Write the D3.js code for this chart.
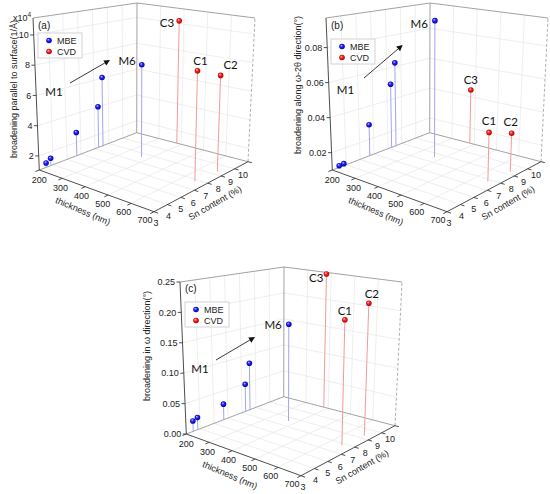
<!DOCTYPE html>
<html>
<head>
<meta charset="utf-8">
<script src="https://cdn.jsdelivr.net/npm/d3@7"></script>
<style>
  body { margin: 0; background: #fff; }
  svg { display: block; font-family: "Liberation Sans", Arial, sans-serif; }
</style>
</head>
<body>
<svg id="chart" width="550" height="494"></svg>
<script>
// samples
var sampleNames = ["M1", "M2", "M3", "M4", "M5", "M6", "C1", "C2", "C3"];
var sampleGroup = ["MBE", "MBE", "MBE", "MBE", "MBE", "MBE", "CVD", "CVD", "CVD"];
var thickness   = [200, 202, 200, 204, 205, 370, 655, 665, 380];
var snContent   = [3.5, 3.8, 5.7, 7.2, 7.5, 7.6, 6.8, 8.3, 10.0];

// panel values
var broadParallel    = [1.36, 1.58, 2.69, 4.05, 6.09, 7.58, 8.36, 7.60, 10.19];   // x10^-4 1/A
var broadOmega2Theta = [0.0110, 0.0114, 0.0288, 0.0499, 0.0627, 0.0933, 0.0380, 0.0326, 0.0443];
var broadOmega       = [0.0173, 0.0206, 0.0270, 0.0498, 0.0855, 0.1700, 0.2060, 0.2235, 0.2470];

// tick labels
var thicknessTicks = [200, 300, 400, 500, 600, 700];
var snTicks        = [3, 4, 5, 6, 7, 8, 9, 10];
var ticksA         = [2, 4, 6, 8, 10];
var ticksB         = [0.02, 0.04, 0.06, 0.08];
var ticksC         = [0.00, 0.05, 0.10, 0.15, 0.20, 0.25];

var groups      = ["MBE", "CVD"];
var groupColors = { MBE: "url(#gBlue)", CVD: "url(#gRed)" };
var dropColors  = { MBE: "#a4a4f2", CVD: "#f49a9a" };

var svg = d3.select("#chart");
var defs = svg.append("defs");

function ballGrad(id, light, mid, dark) {
	var gr = defs.append("radialGradient").attr("id", id)
		.attr("cx", "50%").attr("cy", "50%").attr("r", "55%")
		.attr("fx", "35%").attr("fy", "30%");
	gr.append("stop").attr("offset", "0%").attr("stop-color", light);
	gr.append("stop").attr("offset", "45%").attr("stop-color", mid);
	gr.append("stop").attr("offset", "100%").attr("stop-color", dark);
}
ballGrad("gBlue", "#c8c8ff", "#1e1eff", "#000090");
ballGrad("gRed", "#ffc8c8", "#ff1e1e", "#9a0000");

// box corners of one panel (u = thickness, v = Sn, w = vertical), perspective by trilinear blend
var corners = {
	"000": [39.3, 170], "100": [154, 211.7], "110": [248, 161.7], "010": [136.7, 132.7],
	"001": [33, 18],    "101": [155, 46],    "111": [255, 18],    "011": [137, 3]
};

function project(u, v, w) {
	var x = 0, y = 0;
	[0, 1].forEach(function(a) {
		[0, 1].forEach(function(b) {
			[0, 1].forEach(function(c) {
				var k = (a ? u : 1 - u) * (b ? v : 1 - v) * (c ? w : 1 - w);
				var p = corners["" + a + b + c];
				x += k * p[0];
				y += k * p[1];
			});
		});
	});
	return [x, y];
}

var uScale = d3.scaleLinear().domain([200, 700]).range([0, 1]);
var vScale = d3.scaleLinear().domain([3, 10]).range([0, 1]);
var line = d3.line();

var panels = [
	{ name: "(a)", values: broadParallel, zDomain: [1.07, 11.12], zTicks: ticksA, fmt: d3.format("d"),
	  dx: 0, dy: 0, title: "broadening parallel to surface(1/Å)", titlePos: [14, 89], legendY: 33,
	  m1: [54, 92], arrow: [[70, 83], [110, 60]], labelY: 25, multiplier: true,
	  offs: { M6: [-6, -4, "end"], C3: [-5, 2, "end"], C1: [3, -10, "middle"], C2: [10, -10, "middle"] } },
	{ name: "(b)", values: broadOmega2Theta, zDomain: [0.0101, 0.0969], zTicks: ticksB, fmt: d3.format(".2f"),
	  dx: 293, dy: 0, title: "broadening along ω-2θ direction(°)", titlePos: [5, 85], legendY: 39,
	  m1: [52.5, 90], arrow: [[71, 78], [109.7, 45]], labelY: 25,
	  offs: { M6: [-7, 3, "end"], C3: [0, -10, "middle"], C1: [0, -11, "middle"], C2: [-1, -11, "middle"] } },
	{ name: "(c)", values: broadOmega, zDomain: [0, 0.25], zTicks: ticksC, fmt: d3.format(".2f"),
	  dx: 147, dy: 264, title: "broadening in ω direction(°)", titlePos: [-0.5, 82], legendY: 38,
	  m1: [53, 105], arrow: [[69, 96], [108, 73]], labelY: 24,
	  offs: { M6: [-7, 1, "end"], C3: [-3, 4, "end"], C1: [0, -9, "middle"], C2: [3, -9, "middle"] } }
];

panels.forEach(function(p) {
	var g = svg.append("g").attr("transform", "translate(" + p.dx + "," + p.dy + ")");
	var wScale = d3.scaleLinear().domain(p.zDomain).range([0, 1]);

	function seg(a, b, color, width, dash) {
		g.append("path").attr("d", line([project.apply(null, a), project.apply(null, b)]))
			.attr("fill", "none").attr("stroke", color).attr("stroke-width", width)
			.attr("stroke-dasharray", dash || null);
	}

	// grid on floor and the two back walls
	var gridColor = "#e6e6e6";
	thicknessTicks.slice(1, -1).forEach(function(t) {
		var u = uScale(t);
		seg([u, 0, 0], [u, 1, 0], gridColor, 0.7);
		seg([u, 1, 0], [u, 1, 1], gridColor, 0.7);
	});
	snTicks.slice(1, -1).forEach(function(s) {
		var v = vScale(s);
		seg([0, v, 0], [1, v, 0], gridColor, 0.7);
		seg([0, v, 0], [0, v, 1], gridColor, 0.7);
	});
	p.zTicks.forEach(function(z) {
		var w = wScale(z);
		if (w <= 0.001 || w >= 0.999) return;
		seg([0, 0, w], [0, 1, w], gridColor, 0.7);
		seg([0, 1, w], [1, 1, w], gridColor, 0.7);
	});

	// box edges
	var edge = "#8a8a8a";
	seg([0, 0, 0], [0, 1, 0], edge, 0.8);
	seg([0, 1, 0], [1, 1, 0], edge, 0.8);
	seg([0, 1, 0], [0, 1, 1], edge, 0.8);
	seg([0, 0, 1], [0, 1, 1], edge, 0.8);
	seg([0, 1, 1], [1, 1, 1], edge, 0.8);
	seg([1, 1, 0], [1, 1, 1], "#9a9a9a", 0.8, "3,2");

	// drop lines and balls, back to front
	var order = d3.range(sampleNames.length).sort(function(a, b) {
		return (uScale(thickness[a]) - vScale(snContent[a])) - (uScale(thickness[b]) - vScale(snContent[b]));
	});
	order.forEach(function(i) {
		var u = uScale(thickness[i]), v = vScale(snContent[i]), w = wScale(p.values[i]);
		g.append("path").attr("d", line([project(u, v, 0), project(u, v, w)]))
			.attr("stroke", dropColors[sampleGroup[i]]).attr("stroke-width", 1)
			.attr("fill", "none");
	});
	order.forEach(function(i) {
		var pt = project(uScale(thickness[i]), vScale(snContent[i]), wScale(p.values[i]));
		g.append("circle").attr("cx", pt[0]).attr("cy", pt[1]).attr("r", 2.8)
			.attr("fill", groupColors[sampleGroup[i]]);
	});

	// axes
	var axisColor = "#3a3a3a";
	seg([0, 0, 0], [1, 0, 0], axisColor, 0.9);
	seg([1, 0, 0], [1, 1, 0], axisColor, 0.9);
	seg([0, 0, 0], [0, 0, 1], axisColor, 0.9);

	thicknessTicks.forEach(function(t) {
		var u = uScale(t);
		seg([u, 0, 0], [u, -0.04, 0], axisColor, 0.9);
		var pt = project(u, 0, 0);
		g.append("text").attr("x", pt[0] - 9 * u).attr("y", pt[1] + 10 - 2 * u)
			.attr("dy", "0.35em").attr("text-anchor", "middle")
			.attr("font-size", 9).attr("fill", "#222").text(t);
	});
	snTicks.forEach(function(s) {
		var v = vScale(s);
		seg([1, v, 0], [1.035, v, 0], axisColor, 0.9);
		var pt = project(1, v, 0);
		g.append("text").attr("x", pt[0] + 2 - 7 * v).attr("y", pt[1] + 11.5 + 1.5 * v)
			.attr("dy", "0.35em").attr("text-anchor", "middle")
			.attr("font-size", 9).attr("fill", "#222").text(s);
	});
	p.zTicks.forEach(function(z) {
		var pt = project(0, 0, wScale(z));
		g.append("path").attr("d", line([pt, [pt[0] - 3.5, pt[1]]]))
			.attr("stroke", axisColor).attr("stroke-width", 0.9);
		g.append("text").attr("x", pt[0] - 5).attr("y", pt[1])
			.attr("dy", "0.35em").attr("text-anchor", "end")
			.attr("font-size", 9).attr("fill", "#222").text(p.fmt(z));
	});

	// axis titles
	g.append("text").attr("transform", "translate(83,211) rotate(23)")
		.attr("text-anchor", "middle").attr("dy", "0.35em")
		.attr("font-size", 9).attr("fill", "#222").text("thickness (nm)");
	g.append("text").attr("transform", "translate(215,203) rotate(-30)")
		.attr("text-anchor", "middle").attr("dy", "0.35em")
		.attr("font-size", 9).attr("fill", "#222").text("Sn content (%)");
	g.append("text").attr("transform", "translate(" + p.titlePos[0] + "," + p.titlePos[1] + ") rotate(-90)")
		.attr("text-anchor", "middle").attr("dy", "0.35em")
		.attr("font-size", 9).attr("fill", "#222").text(p.title);

	if (p.multiplier) {
		var mt = g.append("text").attr("x", 13).attr("y", 21).attr("font-size", 9).attr("fill", "#222");
		mt.append("tspan").text("x10");
		mt.append("tspan").attr("font-size", 6.5).attr("dy", -4).text("4");
	}

	// panel label and legend
	g.append("text").attr("x", 38).attr("y", p.labelY).attr("dy", "0.35em")
		.attr("font-size", 10).attr("fill", "#222").text(p.name);
	g.append("rect").attr("x", 38).attr("y", p.legendY).attr("width", 44).attr("height", 25)
		.attr("fill", "#fff").attr("stroke", "#c8c8c8").attr("stroke-width", 0.8);
	groups.forEach(function(grp, k) {
		var yy = p.legendY + 7.5 + k * 11;
		g.append("circle").attr("cx", 49).attr("cy", yy).attr("r", 2.8).attr("fill", groupColors[grp]);
		g.append("text").attr("x", 57).attr("y", yy).attr("dy", "0.35em")
			.attr("font-size", 9).attr("fill", "#222").text(grp);
	});

	// annotations
	g.append("text").attr("x", p.m1[0]).attr("y", p.m1[1]).attr("dy", "0.35em")
		.attr("text-anchor", "middle").attr("font-family", "Lato, 'Open Sans', sans-serif")
		.attr("font-size", 11.5).attr("fill", "#111").text("M1");
	var a0 = p.arrow[0], a1 = p.arrow[1];
	var ang = Math.atan2(a1[1] - a0[1], a1[0] - a0[0]);
	var tail = [a1[0] - 6 * Math.cos(ang), a1[1] - 6 * Math.sin(ang)];
	g.append("path").attr("d", line([a0, tail])).attr("stroke", "#222").attr("stroke-width", 0.9);
	g.append("path").attr("d", d3.line()([
		a1,
		[tail[0] + 3 * Math.sin(ang), tail[1] - 3 * Math.cos(ang)],
		[tail[0] - 3 * Math.sin(ang), tail[1] + 3 * Math.cos(ang)]
	]) + "Z").attr("fill", "#111");

	sampleNames.forEach(function(nm, i) {
		var off = p.offs[nm];
		if (!off) return;
		var pt = project(uScale(thickness[i]), vScale(snContent[i]), wScale(p.values[i]));
		g.append("text").attr("x", pt[0] + off[0]).attr("y", pt[1] + off[1]).attr("dy", "0.35em")
			.attr("text-anchor", off[2]).attr("font-family", "Lato, 'Open Sans', sans-serif")
			.attr("font-size", 11.5).attr("fill", "#111").text(nm);
	});
});
</script>
</body>
</html>
